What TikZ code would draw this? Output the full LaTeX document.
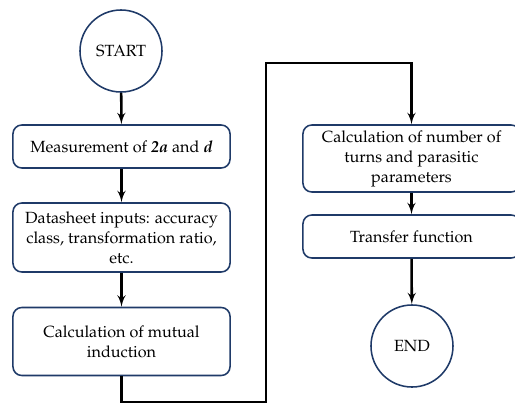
\documentclass[tikz,border=0pt]{standalone}
\usepackage[T1]{fontenc}
\usepackage{mathpazo}
\usetikzlibrary{arrows}
\usetikzlibrary{positioning}
\definecolor{navy}{HTML}{1F3A68}
\tikzset{flow/.style = {-latex', line width=1.8pt}}
\tikzset{term/.style = {draw=navy, line width=1.1pt, circle, minimum size=2.05cm,
                        inner sep=0, font=\fontsize{11.5}{14.2}\selectfont}}
\tikzset{stepbox/.style = {draw=navy, line width=1.1pt, rounded corners=0.22cm,
                           minimum width=5.425cm, align=center,
                           inner sep=0, font=\fontsize{11.5}{14.2}\selectfont}}

\begin{document}
\begin{tikzpicture}[x=0.025cm, y=-0.025cm]
  \useasboundingbox (0, 0) rectangle (515, 404);
  \clip (0, 0) rectangle (515, 404);

  % left column
  \node [term] (start) at (121, 51) {START};
  \node [stepbox, minimum height=1.075cm] (meas) at (121.5, 146.5)
        {Measurement of \textbf{\textit{2a}} and \textbf{\textit{d}}};
  \node [stepbox, minimum height=1.725cm] (data) at (121.5, 237.5)
        {Datasheet inputs: accuracy\\ class, transformation ratio,\\ etc.};
  \node [stepbox, minimum height=1.7cm] (mutual) at (121.5, 341.5)
        {Calculation of mutual\\ induction};

  % right column
  \node [stepbox, minimum height=1.675cm] (turns) at (411.5, 158.5)
        {Calculation of number of\\ turns and parasitic\\ parameters};
  \node [stepbox, minimum height=1.075cm] (transfer) at (411.5, 236.5)
        {Transfer function};
  \node [term] (end) at (412, 346) {END};

  \coordinate (low) at (266, 402);
  \coordinate (high) at (266, 63);

  \draw [flow] (start) -- (meas);
  \draw [flow] (meas) -- (data);
  \draw [flow] (data) -- (mutual);
  \draw [flow] (mutual.south) |- (low) -- (high) -| (turns.north);
  \draw [flow] (turns) -- (transfer);
  \draw [flow] (transfer) -- (end);
\end{tikzpicture}
\end{document}
